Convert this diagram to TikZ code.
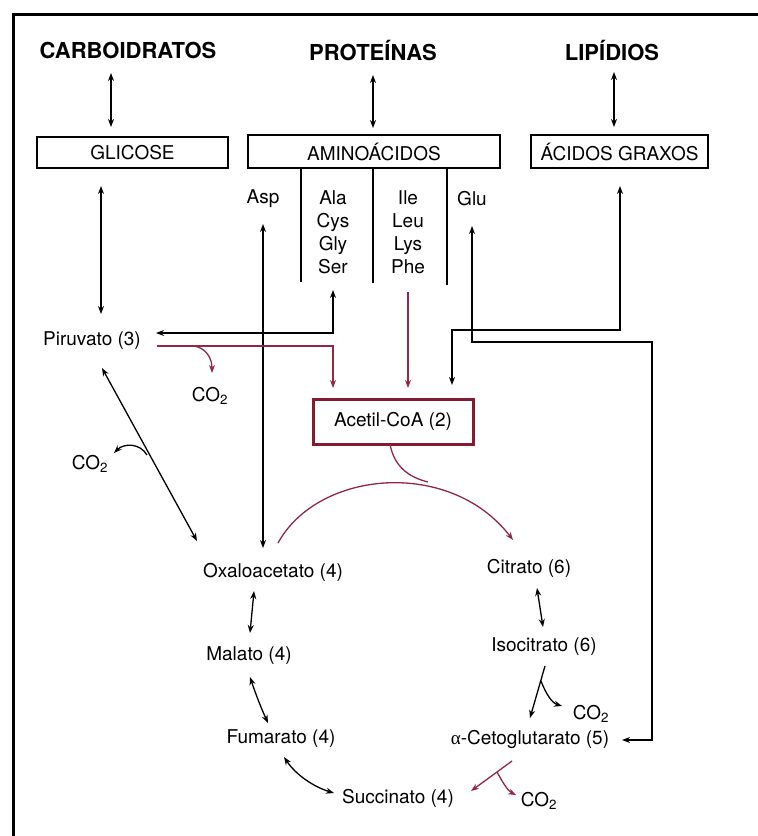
\documentclass[tikz,border=0pt]{standalone}
\usepackage{fontspec}
\setmainfont{TeX Gyre Heros}
\newfontfamily\greekser{Liberation Serif}
\usetikzlibrary{arrows.meta}
\definecolor{mred}{RGB}{145,40,70}
\definecolor{bred}{RGB}{130,28,48}
\begin{document}
\begin{tikzpicture}[x=1pt,y=-1pt,
  font=\fontsize{19}{23}\selectfont,
  tip/.tip={Stealth[length=8pt,width=6pt]},
  hd/.style={font=\fontsize{22}{26}\selectfont\bfseries,inner sep=0pt},
  lbl/.style={inner sep=0pt},
  bx/.style={draw,line width=1.4pt,inner sep=0pt},
  ln/.style={line width=1.3pt,draw=black},
  rln/.style={line width=1.3pt,draw=mred},
  dbl/.style={ln,{tip}-{tip}},
  one/.style={ln,-{tip}},
  rone/.style={rln,-{tip}}]
\useasboundingbox (0,0) rectangle (758,836);
% frame
\draw[line width=3pt] (12,14) -- (758,14);
\draw[line width=3pt] (13,13) -- (13,836);

% headings
\node[hd] (carb) at (128,50) {CARBOIDRATOS};
\node[hd] (prot) at (373,50) {PROTEÍNAS};
\node[hd] (lip) at (612,50) {LIPÍDIOS};

% boxes
\node[bx,minimum width=191pt,minimum height=31pt] (glic) at (132.5,152.5) {GLICOSE};
\node[bx,minimum width=252pt,minimum height=33pt] (amino) at (374,151.5) {AMINOÁCIDOS};
\node[bx,minimum width=177pt,minimum height=33pt] (acid) at (619.5,151.5) {ÁCIDOS GRAXOS};

% dividers
\draw[ln] (301,168) -- (301,282);
\draw[ln] (373,168) -- (373,283);
\draw[ln] (447,168) -- (447,285);

% amino acid labels
\node[lbl] (asp) at (263,199) {Asp};
\node[lbl,align=center] (ala) at (333,232.5) {Ala\\Cys\\Gly\\Ser};
\node[lbl,align=center] (ile) at (408,232.5) {Ile\\Leu\\Lys\\Phe};
\node[lbl] (glu) at (472,199) {Glu};

% metabolites
\node[lbl] (pir) at (92,341) {Piruvato (3)};
\node[draw=bred,line width=3pt,minimum width=160pt,minimum height=45pt,inner sep=0pt] (acet) at (393,421.5) {Acetil-CoA (2)};
\node[lbl] (oxa) at (273,572) {Oxaloacetato (4)};
\node[lbl] (cit) at (529,568) {Citrato (6)};
\node[lbl] (mal) at (249,656) {Malato (4)};
\node[lbl] (iso) at (544,647) {Isocitrato (6)};
\node[lbl] (fum) at (281,739) {Fumarato (4)};
\node[lbl] (akg) at (530,739) {{\greekser α}-Cetoglutarato (5)};
\node[lbl] (suc) at (398,798) {Succinato (4)};

\node[lbl] (co2a) at (210,396) {CO\textsubscript{2}};
\node[lbl] (co2b) at (90,464) {CO\textsubscript{2}};
\node[lbl] (co2c) at (591,714) {CO\textsubscript{2}};
\node[lbl] (co2d) at (539,801) {CO\textsubscript{2}};

% top arrows
\draw[dbl] (111,73) -- (111,127);
\draw[dbl] (373,75) -- (373,128);
\draw[dbl] (614,72) -- (614,127);

% glicose <-> piruvato
\draw[dbl] (101,186) -- (101,314);
% asp <-> oxaloacetato
\draw[dbl] (263,224) -- (263,548);
% piruvato <-> ala group
\draw[dbl] (156,333) -- (333,333) -- (333,290);
% piruvato -> acetil (red)
\draw[rone] (157,346) -- (333,346) -- (333,388);
\draw[rone] (194,346) .. controls (206,348) and (212,358) .. (212,373);
% ile -> acetil
\draw[rone] (408,292) -- (408,388);
% acidos graxos <-> acetil
\draw[dbl] (452,385) -- (452,330) -- (620,330) -- (620,186);
% glu <-> a-ceto
\draw[dbl] (472,226) -- (472,342) -- (652,342) -- (652,740) -- (622,740);

% piruvato <-> oxaloacetato
\draw[dbl] (102,368) -- (197,541);
\draw[one] (147,455) .. controls (140,443) and (124,443) .. (114,453);

% acetil-coA into cycle
\draw[rone] (278,543) .. controls (318,470) and (450,458) .. (513,540);
\draw[rln] (390,444) .. controls (394,466) and (408,477) .. (428,482);

% cycle
\draw[dbl] (254,591) -- (250,633);
\draw[dbl] (250,677) .. controls (256,695) and (262,710) .. (268,723);
\draw[dbl] (284,757) .. controls (296,775) and (314,787) .. (334,793);
\draw[rone] (512,761) -- (471,791);
\draw[rone] (497,772) .. controls (503,783) and (508,791) .. (516,795);
\draw[one] (545,666) -- (530,718);
\draw[one] (541,681) .. controls (546,694) and (552,703) .. (562,706);
\draw[dbl] (537,588) -- (543,627);
\end{tikzpicture}
\end{document}
